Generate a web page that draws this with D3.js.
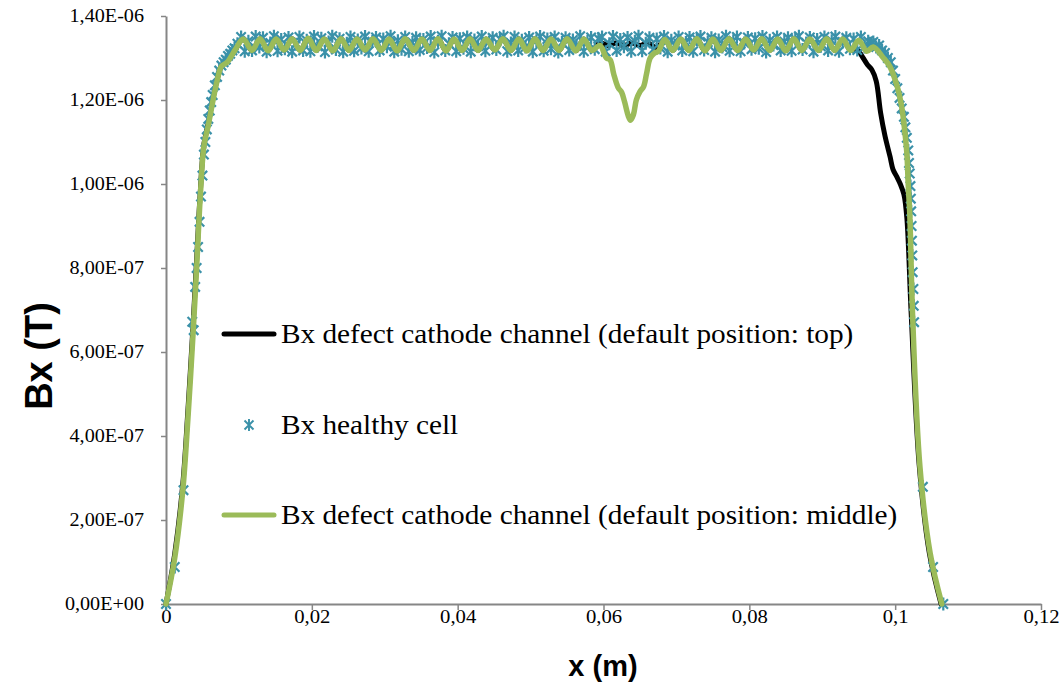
<!DOCTYPE html>
<html>
<head>
<meta charset="utf-8">
<script src="https://cdn.jsdelivr.net/npm/d3@7"></script>
<style>
  html, body { margin: 0; padding: 0; background: #ffffff; }
  svg { display: block; }
</style>
</head>
<body>
<svg id="chart" width="1062" height="686"></svg>
<script>
// ---------- DATA (x in m, Bx in units of 1E-06 T) ----------
const xTickValues = [0, 0.02, 0.04, 0.06, 0.08, 0.1, 0.12];
const xTickLabels = ["0", "0,02", "0,04", "0,06", "0,08", "0,1", "0,12"];
const yTickValues = [0, 0.2, 0.4, 0.6, 0.8, 1.0, 1.2, 1.4];
const yTickLabels = ["0,00E+00", "2,00E-07", "4,00E-07", "6,00E-07", "8,00E-07", "1,00E-06", "1,20E-06", "1,40E-06"];

const seriesNames = [
  "Bx defect cathode channel (default position: top)",
  "Bx healthy cell",
  "Bx defect cathode channel (default position: middle)"
];

// Series 1: defect at top (black line)
const defectTop = [
  [0,0],[0.0012,0.12],[0.0023,0.285],[0.0030,0.46],[0.0037,0.66],[0.0042,0.82],[0.0047,0.98],
  [0.0052,1.095],[0.0058,1.145],[0.0064,1.2],[0.0070,1.248],[0.0076,1.281],[0.0084,1.291],[0.0095,1.320],
  [0.0106,1.345],[0.0118,1.318],[0.0129,1.346],[0.0140,1.317],[0.0151,1.345],[0.0162,1.319],[0.0173,1.346],
  [0.0184,1.318],[0.0195,1.347],[0.0206,1.318],[0.0217,1.345],[0.0229,1.317],[0.0240,1.346],[0.0251,1.318],
  [0.0262,1.345],[0.0273,1.319],[0.0284,1.346],[0.0295,1.318],[0.0306,1.345],[0.0317,1.317],[0.0328,1.346],
  [0.0340,1.318],[0.0351,1.345],[0.0362,1.318],[0.0373,1.346],[0.0384,1.317],[0.0395,1.345],[0.0406,1.318],
  [0.0417,1.346],[0.0428,1.318],[0.0439,1.345],[0.0451,1.319],[0.0462,1.346],[0.0473,1.318],[0.0484,1.345],
  [0.0495,1.317],[0.0506,1.346],[0.0517,1.318],[0.0528,1.345],[0.0539,1.318],[0.0550,1.346],[0.0562,1.317],
  [0.0573,1.345],[0.0584,1.318],[0.0595,1.336],[0.0606,1.330],[0.0617,1.336],[0.0628,1.330],[0.0639,1.336],
  [0.0650,1.330],[0.0661,1.336],[0.0673,1.324],[0.0684,1.344],[0.0695,1.318],[0.0706,1.345],[0.0717,1.318],
  [0.0728,1.346],[0.0739,1.317],[0.0750,1.345],[0.0761,1.318],[0.0772,1.346],[0.0784,1.318],[0.0795,1.345],
  [0.0806,1.319],[0.0817,1.346],[0.0828,1.318],[0.0839,1.345],[0.0850,1.317],[0.0861,1.346],[0.0872,1.318],
  [0.0883,1.345],[0.0895,1.318],[0.0906,1.346],[0.0917,1.318],[0.0928,1.343],[0.0939,1.318],[0.0947,1.322],
  [0.0955,1.303],[0.0962,1.284],[0.0968,1.272],[0.0974,1.245],[0.0980,1.17],[0.0986,1.115],[0.0993,1.065],
  [0.0997,1.035],[0.1002,1.018],[0.1007,1.0],[0.1012,0.975],[0.1016,0.92],[0.1022,0.69],[0.1033,0.33],
  [0.1047,0.12],[0.1063,0]
];

// Series 2: healthy cell (star markers)
const healthyCell = [
  [0,0],[0.0012,0.088],[0.0024,0.271],[0.0036,0.672],[0.0038,0.652],[0.0040,0.755],
  [0.0042,0.80],[0.0044,0.85],[0.0046,0.91],[0.0048,0.97],[0.0050,1.02],[0.0052,1.07],[0.0054,1.10],
  [0.0056,1.13],[0.0058,1.155],[0.0060,1.175],[0.0062,1.195],[0.0064,1.212],[0.0067,1.235],[0.0070,1.255],
  [0.0073,1.270],[0.0076,1.282],[0.0079,1.290],[0.0082,1.296],[0.0085,1.305],[0.0088,1.310],[0.0091,1.318],
  [0.0094,1.323],[0.0098,1.334],
  [0.0103,1.350],[0.0108,1.316],[0.0113,1.340],[0.0118,1.318],[0.0123,1.351],[0.0128,1.326],[0.0133,1.348],[0.0138,1.315],[0.0143,1.336],
  [0.0148,1.352],[0.0153,1.317],[0.0158,1.344],[0.0163,1.322],[0.0168,1.349],[0.0173,1.315],[0.0178,1.333],[0.0183,1.350],[0.0188,1.318],
  [0.0193,1.342],[0.0198,1.316],[0.0203,1.351],[0.0208,1.328],[0.0213,1.347],[0.0218,1.314],[0.0223,1.338],[0.0228,1.352],[0.0233,1.320],
  [0.0238,1.346],[0.0243,1.315],[0.0248,1.335],[0.0253,1.350],[0.0258,1.317],[0.0263,1.343],[0.0268,1.324],[0.0273,1.351],[0.0278,1.316],
  [0.0283,1.339],[0.0288,1.349],[0.0293,1.318],[0.0298,1.345],[0.0303,1.327],[0.0308,1.352],[0.0313,1.315],[0.0318,1.341],[0.0323,1.321],
  [0.0328,1.350],[0.0333,1.316],[0.0338,1.337],[0.0343,1.348],[0.0348,1.319],[0.0353,1.344],[0.0358,1.325],[0.0363,1.351],[0.0368,1.314],
  [0.0373,1.340],[0.0378,1.352],[0.0383,1.318],[0.0388,1.334],[0.0393,1.349],[0.0398,1.316],[0.0403,1.346],[0.0408,1.323],[0.0413,1.350],
  [0.0418,1.315],[0.0423,1.343],[0.0428,1.328],[0.0433,1.351],[0.0438,1.317],[0.0443,1.338],[0.0448,1.348],[0.0453,1.320],[0.0458,1.345],
  [0.0463,1.352],[0.0468,1.316],[0.0473,1.336],[0.0478,1.350],[0.0483,1.318],[0.0488,1.342],[0.0493,1.326],[0.0498,1.349],[0.0503,1.315],
  [0.0508,1.341],[0.0513,1.351],[0.0518,1.317],[0.0523,1.345],[0.0528,1.322],[0.0533,1.350],[0.0538,1.314],[0.0543,1.337],[0.0548,1.348],
  [0.0553,1.319],[0.0558,1.343],[0.0563,1.329],[0.0568,1.352],[0.0573,1.316],[0.0578,1.339],[0.0583,1.349],[0.0588,1.321],[0.0593,1.346],
  [0.0598,1.350],[0.0603,1.315],[0.0608,1.334],[0.0613,1.351],[0.0618,1.318],[0.0623,1.344],[0.0628,1.327],[0.0633,1.349],[0.0638,1.316],
  [0.0643,1.340],[0.0648,1.352],[0.0653,1.317],[0.0658,1.335],[0.0663,1.348],[0.0668,1.320],[0.0673,1.345],[0.0678,1.324],[0.0683,1.351],
  [0.0688,1.315],[0.0693,1.342],[0.0698,1.330],[0.0703,1.350],[0.0708,1.318],[0.0713,1.337],[0.0718,1.349],[0.0723,1.316],[0.0728,1.344],
  [0.0733,1.351],[0.0738,1.319],[0.0743,1.338],[0.0748,1.348],[0.0753,1.315],[0.0758,1.343],[0.0763,1.326],[0.0768,1.352],[0.0773,1.317],
  [0.0778,1.341],[0.0783,1.350],[0.0788,1.316],[0.0793,1.336],[0.0798,1.349],[0.0803,1.321],[0.0808,1.346],[0.0813,1.323],[0.0818,1.351],
  [0.0823,1.314],[0.0828,1.342],[0.0833,1.331],[0.0838,1.350],[0.0843,1.318],[0.0848,1.339],[0.0853,1.348],[0.0858,1.317],[0.0863,1.345],
  [0.0868,1.352],[0.0873,1.320],[0.0878,1.336],[0.0883,1.349],[0.0888,1.315],[0.0893,1.344],[0.0898,1.328],[0.0903,1.350],[0.0908,1.318],
  [0.0913,1.341],[0.0918,1.351],[0.0923,1.316],[0.0928,1.338],[0.0933,1.348],[0.0938,1.322],[0.0943,1.345],[0.0948,1.319],[0.0953,1.350],
  [0.0958,1.326],[0.0963,1.340],
  [0.0967,1.335],[0.0970,1.338],[0.0974,1.326],[0.0978,1.330],[0.0982,1.318],[0.0986,1.312],[0.0990,1.300],
  [0.0994,1.290],[0.0997,1.270],[0.1000,1.250],[0.1003,1.228],[0.1006,1.205],[0.1009,1.180],[0.1012,1.160],
  [0.1014,1.135],[0.1016,1.110],[0.1018,1.080],[0.1019,1.050],[0.1020,1.025],[0.1021,0.995],[0.10215,0.965],
  [0.1022,0.935],[0.10225,0.900],[0.1023,0.865],[0.10235,0.830],[0.1024,0.790],[0.1025,0.750],[0.10255,0.710],
  [0.1026,0.671],[0.1038,0.279],[0.1052,0.088],[0.1066,0]
];

// Series 3: defect in the middle (green line)
const defectMiddle = [
  [0,0],[0.0012,0.11],[0.0023,0.27],[0.0030,0.44],[0.0037,0.64],[0.0042,0.80],[0.0047,0.97],
  [0.0052,1.09],[0.0058,1.14],[0.0064,1.195],[0.0070,1.245],[0.0076,1.280],[0.0084,1.290],[0.0095,1.320],
  [0.0106,1.345],[0.0118,1.318],[0.0129,1.346],[0.0140,1.317],[0.0151,1.345],[0.0162,1.319],[0.0173,1.346],
  [0.0184,1.318],[0.0195,1.347],[0.0206,1.318],[0.0217,1.345],[0.0229,1.317],[0.0240,1.346],[0.0251,1.318],
  [0.0262,1.345],[0.0273,1.319],[0.0284,1.346],[0.0295,1.318],[0.0306,1.345],[0.0317,1.317],[0.0328,1.346],
  [0.0340,1.318],[0.0351,1.345],[0.0362,1.318],[0.0373,1.346],[0.0384,1.317],[0.0395,1.345],[0.0406,1.318],
  [0.0417,1.346],[0.0428,1.318],[0.0439,1.345],[0.0451,1.319],[0.0462,1.346],[0.0473,1.318],[0.0484,1.345],
  [0.0495,1.317],[0.0506,1.346],[0.0517,1.318],[0.0528,1.345],[0.0539,1.318],[0.0550,1.346],[0.0562,1.317],
  [0.0573,1.345],[0.0584,1.318],[0.0595,1.330],[0.0604,1.300],[0.0609,1.296],[0.0614,1.262],[0.0620,1.230],
  [0.0625,1.218],[0.0629,1.195],[0.0634,1.162],[0.0637,1.152],[0.0641,1.165],[0.0645,1.200],[0.0650,1.220],
  [0.0655,1.232],[0.0659,1.262],[0.0664,1.300],[0.0670,1.312],[0.0675,1.316],[0.0684,1.344],
  [0.0695,1.318],[0.0706,1.345],[0.0717,1.318],[0.0728,1.346],[0.0739,1.317],[0.0750,1.345],[0.0761,1.318],
  [0.0772,1.346],[0.0784,1.318],[0.0795,1.345],[0.0806,1.319],[0.0817,1.346],[0.0828,1.318],[0.0839,1.345],
  [0.0850,1.317],[0.0861,1.346],[0.0872,1.318],[0.0883,1.345],[0.0895,1.318],[0.0906,1.346],[0.0917,1.318],
  [0.0928,1.345],[0.0939,1.318],[0.0950,1.342],[0.0961,1.316],[0.0970,1.326],[0.0983,1.302],[0.0993,1.279],
  [0.1003,1.231],[0.1009,1.183],[0.1013,1.129],[0.1016,1.074],[0.1018,0.995],[0.1020,0.93],[0.1024,0.683],
  [0.1034,0.326],[0.1048,0.121],[0.1064,0]
];

// ---------- DRAWING ----------
const svg = d3.select("#chart");
svg.append("rect").attr("width", 1062).attr("height", 686).attr("fill", "#ffffff");

const plot = { left: 166, right: 1041, top: 16, bottom: 604 };
const x = d3.scaleLinear().domain([0, 0.12]).range([plot.left, plot.right]);
const y = d3.scaleLinear().domain([0, 1.4]).range([plot.bottom, plot.top]);

const axisColor = "#868686";
const colBlack = "#000000";
const colTeal = "#3a91a9";
const colGreen = "#9bbb59";
const serif = "'Liberation Serif', 'Times New Roman', serif";
const sans = "'Liberation Sans', Arial, sans-serif";

// Axes
const yAxis = d3.axisLeft(y).tickValues(yTickValues)
  .tickFormat((d, i) => yTickLabels[i]).tickSize(5).tickSizeOuter(0).tickPadding(17);
const gy = svg.append("g").attr("transform", `translate(${plot.left},0)`).call(yAxis);

const xAxis = d3.axisBottom(x).tickValues(xTickValues)
  .tickFormat((d, i) => xTickLabels[i]).tickSize(6).tickSizeOuter(0).tickPadding(0);
const gx = svg.append("g").attr("transform", `translate(0,${plot.bottom})`).call(xAxis);

[gx, gy].forEach(g => {
  g.select(".domain").attr("stroke", axisColor).attr("stroke-width", 2);
  g.selectAll(".tick line").attr("stroke", axisColor).attr("stroke-width", 1.5);
  g.selectAll(".tick text")
    .attr("fill", "#000")
    .style("font-family", serif)
    .style("font-size", "18px")
    .style("transform-box", "fill-box");
});
gx.selectAll(".tick text").style("transform-origin", "center").style("transform", "scaleX(1.15)");
gy.selectAll(".tick text").style("transform-origin", "right center").style("transform", "scaleX(1.12)");

// Axis titles
svg.append("text")
  .attr("x", 603).attr("y", 676)
  .attr("text-anchor", "middle")
  .style("font-family", sans)
  .style("font-weight", "bold").style("font-size", "29px")
  .text("x (m)");

svg.append("text")
  .attr("transform", "translate(52,356) rotate(-90)")
  .attr("text-anchor", "middle")
  .style("font-family", sans)
  .style("font-weight", "bold").style("font-size", "38px")
  .text("Bx (T)");

// Series
const line = d3.line()
  .x(d => x(d[0])).y(d => y(d[1]))
  .curve(d3.curveCatmullRom.alpha(0.5));

svg.append("path").datum(defectTop)
  .attr("d", line).attr("fill", "none")
  .attr("stroke", colBlack).attr("stroke-width", 5)
  .attr("stroke-linejoin", "round").attr("stroke-linecap", "round");

const star = "M-4.7,-4.7L4.7,4.7M-4.7,4.7L4.7,-4.7M0,-6.5L0,6.5";
svg.append("g").selectAll("path").data(healthyCell).join("path")
  .attr("transform", d => `translate(${x(d[0])},${y(d[1])})`)
  .attr("d", star).attr("fill", "none")
  .attr("stroke", colTeal).attr("stroke-width", 2.2);

svg.append("path").datum(defectMiddle)
  .attr("d", line).attr("fill", "none")
  .attr("stroke", colGreen).attr("stroke-width", 5.5)
  .attr("stroke-linejoin", "round").attr("stroke-linecap", "round");

// Legend
const legendRows = [
  { name: seriesNames[0], kind: "line", color: colBlack, cy: 334 },
  { name: seriesNames[1], kind: "marker", color: colTeal, cy: 425 },
  { name: seriesNames[2], kind: "line", color: colGreen, cy: 515 }
];
const legendStar = "M-4.5,-4.5L4.5,4.5M-4.5,4.5L4.5,-4.5M0,-6L0,6";
const lg = svg.append("g");
legendRows.forEach(r => {
  if (r.kind === "line") {
    lg.append("line").attr("x1", 224).attr("x2", 274).attr("y1", r.cy).attr("y2", r.cy)
      .attr("stroke", r.color).attr("stroke-width", 5).attr("stroke-linecap", "round");
  } else {
    lg.append("path").attr("transform", `translate(249,${r.cy})`).attr("d", legendStar)
      .attr("fill", "none").attr("stroke", r.color).attr("stroke-width", 1.9);
  }
  lg.append("text").attr("x", 281).attr("y", r.cy).attr("dy", "0.33em")
    .style("font-family", serif)
    .style("font-size", "27px").attr("fill", "#000")
    .style("transform-box", "fill-box").style("transform-origin", "left center")
    .style("transform", "scaleX(1.085)")
    .text(r.name);
});
</script>
</body>
</html>
